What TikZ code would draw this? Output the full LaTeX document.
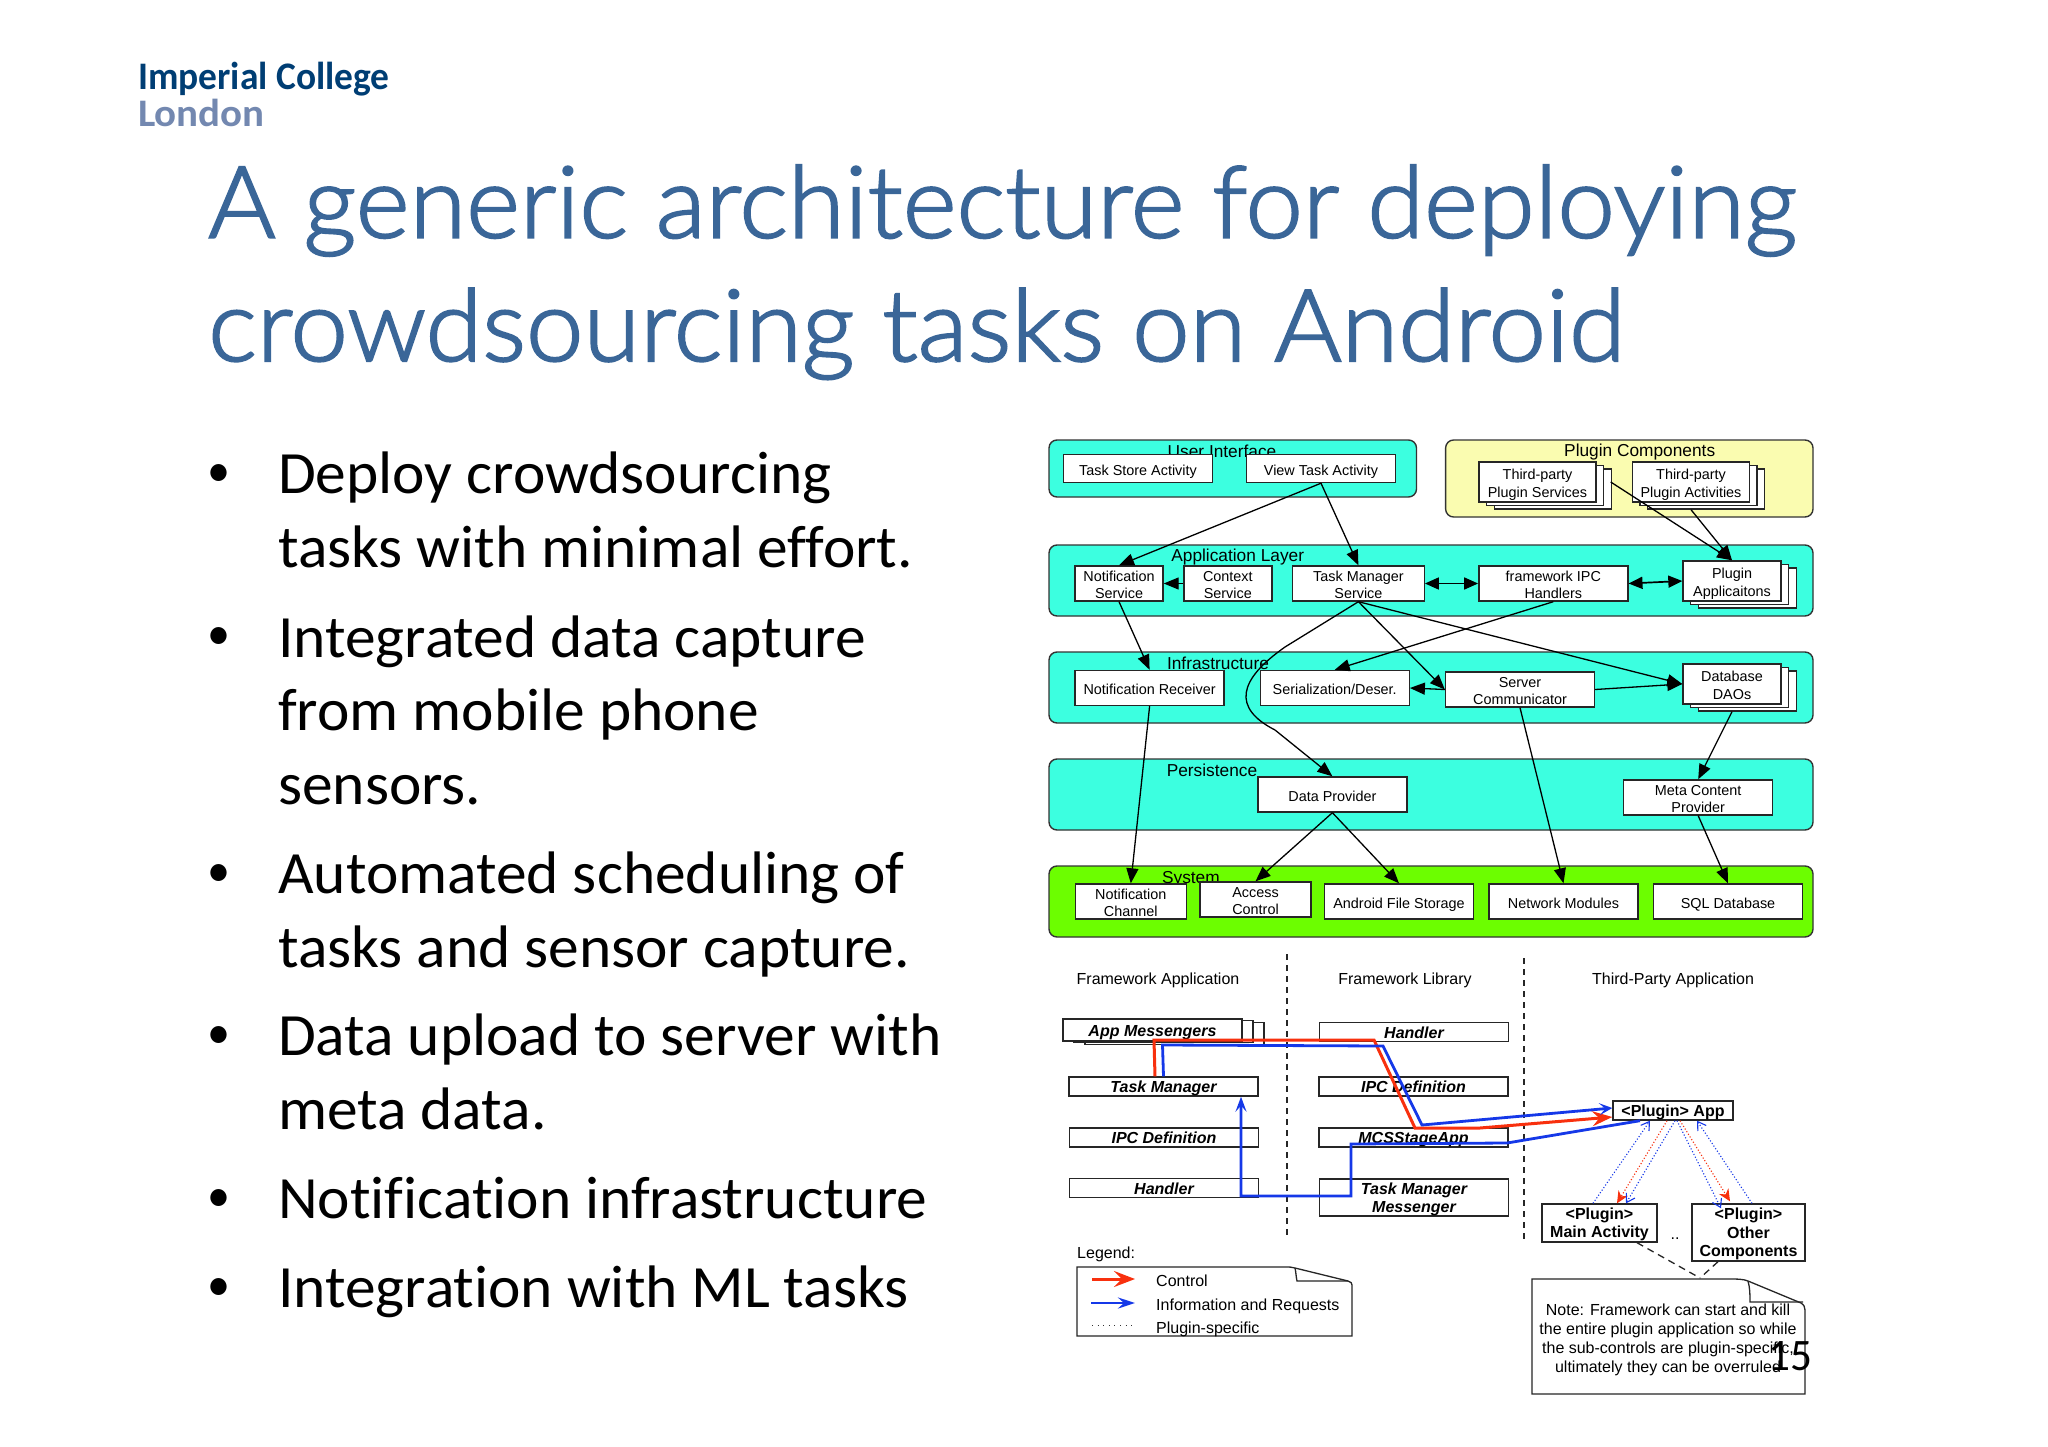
\documentclass[tikz,border=0pt]{standalone}
\usepackage{fontspec}
\setmainfont{Liberation Sans}
\newfontfamily\bodyfont[Ligatures=NoCommon,FakeStretch=1.024]{Carlito}
\newfontfamily\logofont[FakeStretch=0.96]{Carlito}
\newfontfamily\logowide[FakeStretch=1.05]{Carlito}
\newfontfamily\titlefont[FakeStretch=1.03,FakeBold=2,UprightFont=* Light]{Lato}
\usetikzlibrary{arrows.meta,shadows}
\definecolor{panelcyan}{HTML}{3CFFE0}
\definecolor{panelyellow}{HTML}{FAFCB0}
\definecolor{panelgreen}{HTML}{6CFE00}
\definecolor{titleblue}{HTML}{3A6698}
\definecolor{logoblue}{HTML}{003E74}
\definecolor{logogrey}{HTML}{7388B0}
\definecolor{ctrlred}{HTML}{F8300E}
\definecolor{infoblue}{HTML}{1538E8}
\tikzset{
	panel/.style={draw=black!80, line width=1.4pt, rounded corners=8pt, minimum width=764pt, minimum height=71pt, inner sep=0pt},
	paneltext/.style={inner sep=0pt, yshift=-1pt, font=\fontsize{17.3}{20}\selectfont},
	layerbox/.style={draw=black!85, fill=white, line width=1.4pt, inner sep=0pt, minimum width=149pt, minimum height=35pt, align=center, font=\fontsize{14.4}{17.3}\selectfont, text height=14pt, text depth=1pt},
	twoline/.style={text height=32pt, text depth=2pt},
	stackbox/.style={layerbox, twoline, minimum width=117pt, minimum height=40pt, double copy shadow={shadow xshift=7.6pt, shadow yshift=-3.4pt}},
	libbox/.style={draw=black!85, fill=white, line width=1.4pt, inner sep=0pt, minimum width=189pt, minimum height=19pt, align=center, font=\fontsize{16}{18.4}\selectfont\bfseries\itshape, text height=14pt, text depth=1.6pt},
	pluginbox/.style={draw=black!85, fill=white, line width=1.4pt, inner sep=0pt, align=center, font=\fontsize{16}{18.5}\selectfont\bfseries, text height=13pt, text depth=2pt},
	lowtext/.style={inner sep=0pt, yshift=-2pt, align=center, font=\fontsize{16}{19}\selectfont},
	flow/.style={-{Triangle[length=15pt,width=12pt]}, line width=1.3pt, black},
	twoflow/.style={{Triangle[length=14pt,width=12pt]}-{Triangle[length=14pt,width=12pt]}, line width=1.7pt, black},
	ctrlline/.style={line width=3pt, ctrlred},
	infoline/.style={line width=2.8pt, infoblue},
	dotinfo/.style={dotted, line width=1.1pt, infoblue, -{Straight Barb[length=8pt,width=10pt]}},
	dotctrl/.style={dotted, line width=1.1pt, ctrlred, -{Stealth[length=12pt,width=11pt]}},
	sepline/.style={draw=black!85, line width=1.2pt, dash pattern=on 6pt off 5pt},
	notepage/.style={draw=black!85, line width=1.3pt},
	bulletline/.style={inner sep=0pt, anchor=base west, align=left, font=\bodyfont\fontsize{60}{73.6}\selectfont},
	bulletdot/.style={inner sep=0pt, anchor=base, font=\logofont\fontsize{48}{50}\selectfont}
}
\begin{document}
\begin{tikzpicture}[x=1pt, y=-1pt]
	\fill[white] (0,0) rectangle (2048,1447);
	\useasboundingbox (0,0) rectangle (2048,1447);

	% LOGO AND TITLE
	\node[inner sep=0pt, anchor=base west, text=logoblue, font=\logofont\bfseries\fontsize{39}{40}\selectfont] (logoA) at (138,89.5) {Imperial College};
	\node[inner sep=0pt, anchor=base west, text=logogrey, font=\logowide\bfseries\fontsize{39}{40}\selectfont] (logoB) at (138,127) {London};
	\node[inner sep=0pt, anchor=base west, text=titleblue, font=\titlefont\fontsize{100}{123.3}\selectfont] (titleA) at (208,237.7) {A generic architecture for deploying};
	\node[inner sep=0pt, anchor=base west, text=titleblue, font=\titlefont\fontsize{100}{123.3}\selectfont] (titleB) at (208,361) {crowdsourcing tasks on Android};

	% BULLETS
	\node[bulletdot] (dot1) at (219,486) {•};
	\node[bulletdot] (dot2) at (219,649.5) {•};
	\node[bulletdot] (dot3) at (219,886) {•};
	\node[bulletdot] (dot4) at (219,1048) {•};
	\node[bulletdot] (dot5) at (219,1211) {•};
	\node[bulletdot] (dot6) at (219,1300) {•};
	\node[bulletline] (item1) at (278,567.5) {Deploy crowdsourcing\\tasks with minimal effort.};
	\node[bulletline] (item2) at (278,804.5) {Integrated data capture\\from mobile phone\\sensors.};
	\node[bulletline] (item3) at (278,967.5) {Automated scheduling of\\tasks and sensor capture.};
	\node[bulletline] (item4) at (278,1129.2) {Data upload to server with\\meta data.};
	\node[bulletline] (item5) at (278,1218.5) {Notification infrastructure};
	\node[bulletline] (item6) at (278,1307.5) {Integration with ML tasks};

	% PANELS
	\node[panel, fill=panelcyan, minimum width=367.5pt, minimum height=57pt] (uiPanel) at (1232.75,468.5) {};
	\node[panel, fill=panelyellow, minimum width=367.4pt, minimum height=77pt] (plugPanel) at (1629.3,478.5) {};
	\node[panel, fill=panelcyan] (appPanel) at (1431,580.5) {};
	\node[panel, fill=panelcyan] (infraPanel) at (1431,687.5) {};
	\node[panel, fill=panelcyan] (persPanel) at (1431,794.5) {};
	\node[panel, fill=panelgreen] (sysPanel) at (1431,901.5) {};
	\node[paneltext] (uiText) at (1222,450) {User Interface};
	\node[paneltext] (plugText) at (1639.7,451) {Plugin Components};
	\node[paneltext] (appText) at (1237.7,556) {Application Layer};
	\node[paneltext] (infraText) at (1218,662) {Infrastructure};
	\node[paneltext] (persText) at (1212,769) {Persistence};
	\node[paneltext] (sysText) at (1190.9,878) {System};

	% LAYER BOXES
	\node[layerbox, minimum height=28pt] (taskStore) at (1138,468.5) {Task Store Activity};
	\node[layerbox, minimum height=28pt] (viewTask) at (1321,468.5) {View Task Activity};
	\node[stackbox] (plugServ) at (1537.5,482) {Third-party\\Plugin Services};
	\node[stackbox] (plugAct) at (1691,482) {Third-party\\Plugin Activities};
	\node[layerbox, twoline, minimum width=88pt] (notifServ) at (1119,583.5) {Notification\\Service};
	\node[layerbox, twoline, minimum width=88pt] (contextServ) at (1227.8,583.5) {Context\\Service};
	\node[layerbox, twoline, minimum width=131.6pt] (taskServ) at (1358.4,583.5) {Task Manager\\Service};
	\node[layerbox, twoline] (ipcHand) at (1553.3,583.5) {framework IPC\\Handlers};
	\node[stackbox, minimum width=98pt] (plugApps) at (1732,581) {Plugin\\Applicaitons};
	\node[layerbox] (notifRecv) at (1149.6,688) {Notification Receiver};
	\node[layerbox] (serial) at (1334.7,688) {Serialization/Deser.};
	\node[layerbox, twoline] (server) at (1520,689.5) {Server\\Communicator};
	\node[stackbox, minimum width=98pt] (dbDaos) at (1732,684) {Database\\DAOs};
	\node[layerbox] (dataProv) at (1332.4,794.5) {Data Provider};
	\node[layerbox, twoline] (metaProv) at (1698.2,797.5) {Meta Content\\Provider};
	\node[layerbox, twoline, minimum width=111pt] (notifChan) at (1130.8,901.5) {Notification\\Channel};
	\node[layerbox, twoline, minimum width=111pt] (access) at (1255.5,899.5) {Access\\Control};
	\node[layerbox] (fileStore) at (1399,901.5) {Android File Storage};
	\node[layerbox] (network) at (1563.5,901.5) {Network Modules};
	\node[layerbox] (sqlDb) at (1728,901.5) {SQL Database};

	% DRAW LAYER ARROWS
	\draw[flow] (viewTask.south) -- (notifServ.north);
	\draw[flow] (viewTask.south) -- (taskServ.north);
	\draw[flow] ([xshift=14pt]plugServ.east) -- (plugApps.north);
	\draw[flow] ([yshift=-7pt]plugAct.south) -- (plugApps.north);
	\draw[flow] (contextServ.west) -- (notifServ.east);
	\draw[twoflow] (taskServ.east) -- (ipcHand.west);
	\draw[twoflow] (ipcHand.east) -- (plugApps.west);
	\draw[flow] (notifServ.south) -- (notifRecv.north);
	\draw[flow] (taskServ.south) -- (1285,647) .. controls (1238,680) and (1232,708) .. (1275,730) -- (dataProv.north);
	\draw[flow] (taskServ.south) -- (server.west);
	\draw[flow] (taskServ.south) -- (dbDaos.west);
	\draw[flow] (ipcHand.south) -- (serial.north);
	\draw[flow] (server.west) -- (serial.east);
	\draw[flow] (server.east) -- (dbDaos.west);
	\draw[flow] (notifRecv.south) -- (notifChan.north);
	\draw[flow] (server.south) -- (network.north);
	\draw[flow] ([yshift=-7pt]dbDaos.south) -- (metaProv.north);
	\draw[flow] (dataProv.south) -- (access.north);
	\draw[flow] (dataProv.south) -- (fileStore.north);
	\draw[flow] (metaProv.south) -- (sqlDb.north);

	% LOWER DIAGRAM
	\node[lowtext] (frameApp) at (1158,978) {Framework Application};
	\node[lowtext] (frameLib) at (1405,978) {Framework Library};
	\node[lowtext] (thirdApp) at (1673,978) {Third-Party Application};
	\coordinate (sepA) at (1287,954);
	\coordinate (sepB) at (1287,1236);
	\coordinate (sepC) at (1524,958);
	\coordinate (sepD) at (1524,1243);
	\draw[sepline] (sepA) -- (sepB);
	\draw[sepline] (sepC) -- (sepD);

	\node[libbox, minimum width=179pt, minimum height=22pt, double copy shadow={shadow xshift=11pt, shadow yshift=-1.7pt}] (appMsg) at (1152.5,1030) {App Messengers};
	\node[libbox] (taskA) at (1163.5,1086.5) {Task Manager};
	\node[libbox] (ipcA) at (1164,1137.5) {IPC Definition};
	\node[libbox] (handA) at (1164,1188) {Handler};
	\node[libbox] (handB) at (1414,1032) {Handler};
	\node[libbox] (ipcB) at (1413.5,1086.5) {IPC Definition};
	\node[libbox] (stageApp) at (1413.5,1137.5) {MCSStageApp};
	\node[libbox, minimum height=37pt, text height=32pt] (taskMsg) at (1414,1197.5) {Task Manager\\Messenger};

	\node[pluginbox, minimum width=120pt, minimum height=19pt] (plugMain) at (1673,1110.5) {<Plugin> App};
	\node[pluginbox, minimum width=115pt, minimum height=38pt, text height=32pt, text depth=2.6pt] (plugLeft) at (1599.5,1223) {<Plugin>\\Main Activity};
	\node[pluginbox, minimum width=113pt, minimum height=57pt, text height=50pt, text depth=1.6pt] (plugRight) at (1748.5,1232.5) {<Plugin>\\Other\\Components};
	\node[lowtext] (moreDots) at (1675,1237) {..};

	% DRAW CONTROL AND INFORMATION LINES
	\draw[ctrlline, -{Stealth[length=20pt,width=15pt,inset=7pt]}] ([xshift=-8.5pt]taskA.north) -- (1154,1040) -- (1374,1040) -- (1415,1128) -- (1480,1128) -- ([yshift=-6.5pt]plugMain.west);
	\draw[infoline, -{Stealth[length=13pt,width=12pt,inset=6pt]}] (taskA.north) -- (1162.5,1045) -- (1383,1046) -- (1422,1125) -- ([yshift=2.5pt]plugMain.west);
	\draw[infoline, -{Stealth[length=15pt,width=11pt,inset=6pt]}] ([xshift=-33pt]plugMain.south) -- (1507,1143) -- (1351,1144) -- (1351,1196) -- (1241,1196) -- ([xshift=77.5pt]taskA.south);

	% DRAW DOTTED ARROWS
	\draw[dotinfo] ([xshift=-6.5pt]plugLeft.north) -- ([xshift=-23pt]plugMain.south);
	\draw[dotctrl] ([xshift=-6pt]plugMain.south) -- ([xshift=17.5pt]plugLeft.north);
	\draw[dotinfo] ([xshift=2pt]plugMain.south) -- ([xshift=26.5pt]plugLeft.north);
	\draw[dotinfo] ([xshift=4pt]plugMain.south) -- ([xshift=-27.5pt,yshift=-5pt]plugRight.north);
	\draw[dotctrl] ([xshift=7pt]plugMain.south) -- ([xshift=-18.5pt,yshift=2pt]plugRight.north);
	\draw[dotinfo] ([xshift=3.5pt]plugRight.north) -- ([xshift=24pt]plugMain.south);

	% NOTE
	\draw[notepage, fill=white] (1532,1279) -- (1727,1279) .. controls (1738,1279) and (1743,1279) .. (1748,1281) -- (1801,1303) .. controls (1804,1305) and (1805,1307) .. (1805,1310) -- (1805,1394) -- (1532,1394) -- cycle;
	\draw[notepage] (1748,1281) .. controls (1750,1288) and (1750,1295) .. (1750,1302) -- (1803,1302);
	\node[lowtext] (noteText) at (1668,1337.5) {Note: Framework can start and kill\\the entire plugin application so while\\the sub-controls are plugin-specific,\\ultimately they can be overruled};
	\coordinate (noteTop) at (1700,1278);
	\draw[notepage, dash pattern=on 7pt off 5pt] ([xshift=37.5pt]plugLeft.south) -- (noteTop);
	\draw[notepage, dash pattern=on 7pt off 5pt] ([xshift=-30.5pt]plugRight.south) -- (noteTop);

	% LEGEND
	\node[lowtext, anchor=base west] (legendText) at (1077,1256) {Legend:};
	\draw[notepage, fill=white] (1077,1267) -- (1285,1267) .. controls (1289,1267) and (1292,1267) .. (1295,1268) -- (1348,1281) .. controls (1351,1282) and (1352,1283) .. (1352,1285) -- (1352,1336) -- (1077,1336) -- cycle;
	\draw[notepage] (1295,1268) .. controls (1296,1272) and (1296,1277) .. (1297,1281) -- (1348,1281);
	\coordinate (ctrlA) at (1092,1279);
	\coordinate (ctrlB) at (1135,1279);
	\coordinate (infoA) at (1091,1303);
	\coordinate (infoB) at (1135,1303);
	\coordinate (dotA) at (1092,1325);
	\coordinate (dotB) at (1132,1325);
	\draw[ctrlline, -{Stealth[length=21pt,width=16pt,inset=8pt]}] (ctrlA) -- (ctrlB);
	\draw[infoline, -{Stealth[length=17pt,width=11pt,inset=6pt]}] (infoA) -- (infoB);
	\draw[line width=1pt, black!80, dash pattern=on 1pt off 4.6pt] (dotA) -- (dotB);
	\node[lowtext, anchor=west] (ctrlText) at (1156,1279) {Control};
	\node[lowtext, anchor=west] (infoText) at (1156,1304) {Information and Requests};
	\node[lowtext, anchor=west] (dotText) at (1156,1327) {Plugin-specific};

	% PAGE NUMBER
	\node[inner sep=0pt, font=\logofont\fontsize{45}{50}\selectfont] (pageNum) at (1790,1356) {15};
\end{tikzpicture}
\end{document}
